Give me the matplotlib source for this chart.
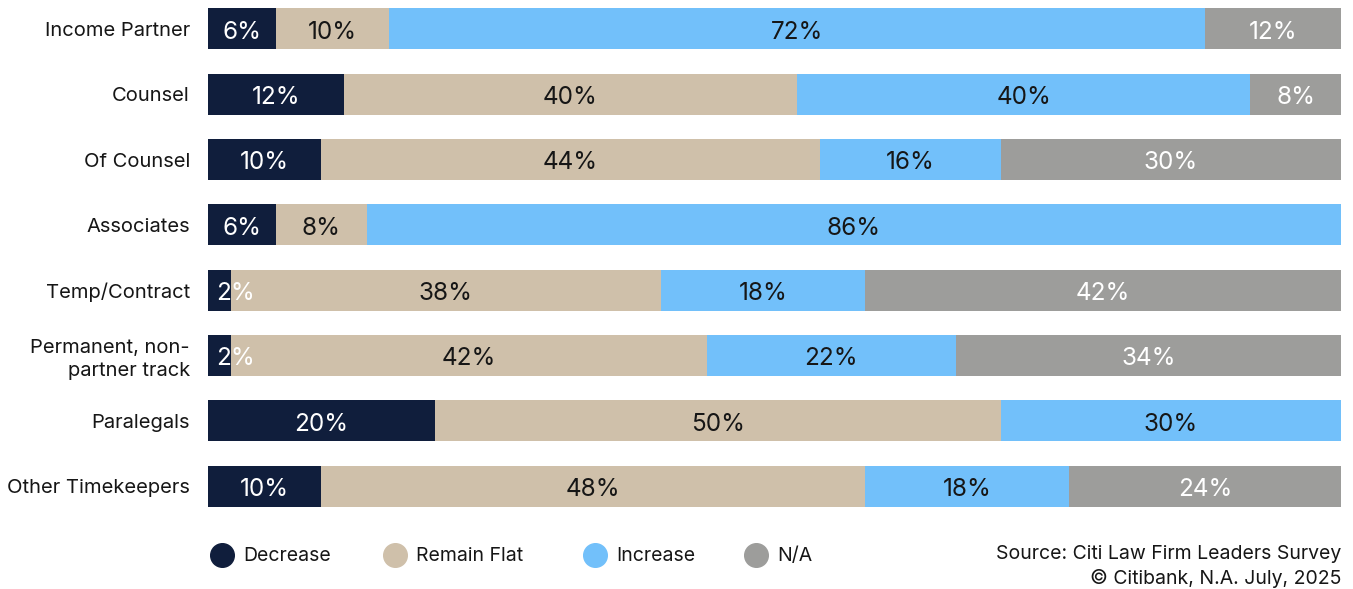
import matplotlib
matplotlib.use("Agg")
import matplotlib.pyplot as plt
import numpy as np

plt.rcParams['font.family'] = ['Inter', 'DejaVu Sans']

# survey answers per timekeeper group, in percent
categories = ['Income Partner', 'Counsel', 'Of Counsel', 'Associates', 'Temp/Contract',
              'Permanent, non-\npartner track', 'Paralegals', 'Other Timekeepers']
decrease = [6, 12, 10, 6, 2, 2, 20, 10]
remain_flat = [10, 40, 44, 8, 38, 42, 50, 48]
increase = [72, 40, 16, 86, 18, 22, 30, 18]
not_applicable = [12, 8, 30, 0, 42, 34, 0, 24]

series_names = ['Decrease', 'Remain Flat', 'Increase', 'N/A']
colors = ['#101e3c', '#cfc0aa', '#72c0fa', '#9d9d9b']
text_colors = ['white', '#161616', '#161616', 'white']

fig = plt.figure(figsize=(13.53, 5.89), dpi=100)
ax = fig.add_axes([208 / 1353, 1 - 507 / 589, (1341 - 208) / 1353, (507 - 8) / 589])

y = np.arange(len(categories))
left = np.zeros(len(categories))
for vals, name, col, tcol in zip([decrease, remain_flat, increase, not_applicable],
                                 series_names, colors, text_colors):
    vals = np.array(vals, dtype=float)
    ax.barh(y, vals, left=left, height=0.63, color=col, label=name)
    for yi, (l, v) in enumerate(zip(left, vals)):
        if v <= 0:
            continue
        if v < 4:
            ax.text(l + 0.75, yi + 0.05, f'{int(v)}%', ha='left', va='center',
                    color=tcol, fontsize=17.5)
        else:
            ax.text(l + v / 2, yi + 0.05, f'{int(v)}%', ha='center', va='center',
                    color=tcol, fontsize=17.5)
    left += vals

ax.set_xlim(0, 100)
ax.set_ylim(7.32, -0.32)
ax.set_yticks(y)
ax.set_yticklabels(categories, fontsize=14.5, color='#161616', linespacing=1.3)
ax.tick_params(axis='y', length=0, pad=13)
ax.set_xticks([])
for s in ax.spines.values():
    s.set_visible(False)

# legend row along the bottom
legend_x = [222, 395, 595, 756]
for xp, name, col in zip(legend_x, series_names, colors):
    fig.lines.append(plt.Line2D([xp / 1353], [1 - 555 / 589], marker='o', markersize=17,
                                color=col, linestyle='none', transform=fig.transFigure))
    fig.text((xp + 21) / 1353, 1 - 556 / 589, name, ha='left', va='center',
             fontsize=14, color='#161616')

fig.text(1341 / 1353, 1 - 554 / 589, 'Source: Citi Law Firm Leaders Survey',
         ha='right', va='center', fontsize=14, color='#161616')
fig.text(1341 / 1353, 1 - 579 / 589, '© Citibank, N.A. July, 2025',
         ha='right', va='center', fontsize=14, color='#161616')

fig.savefig('out.png', dpi=100)
